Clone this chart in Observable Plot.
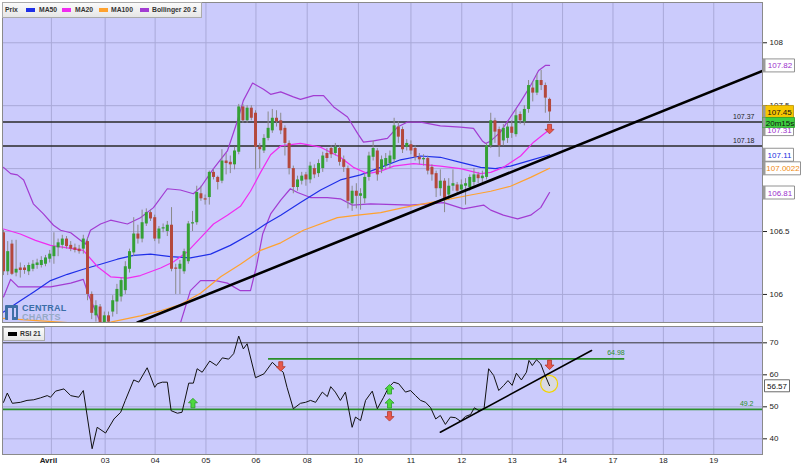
<!DOCTYPE html>
<html><head><meta charset="utf-8">
<script src="https://cdn.jsdelivr.net/npm/d3@7"></script>
<script src="https://cdn.jsdelivr.net/npm/@observablehq/plot@0.6"></script>
<style>
body{margin:0;background:#fff;font-family:"Liberation Sans",Arial,sans-serif;}
#wrap{position:relative;width:806px;height:469px;overflow:hidden;background:#fff;}
#main,#rsi{position:absolute;left:0;}
#main{top:0;} #rsi{top:324px;}
.leg{position:absolute;background:linear-gradient(#fbfbfb,#e6e6e6);border:1px solid #aaa;box-sizing:border-box;}
.leg span{position:absolute;top:0;line-height:14px;font-size:6.8px;font-weight:bold;color:#333;white-space:nowrap;}
.leg i{position:absolute;top:5px;width:9px;height:4px;}
#logo{position:absolute;left:5px;top:303px;}
</style></head><body>
<div id="wrap">
  <div id="main"></div>
  <div id="rsi"></div>
  <div class="leg" style="left:2px;top:2px;width:200px;height:16px;">
    <span style="left:2px">Prix</span>
    <i style="left:23px;background:#1f2fe8"></i><span style="left:36px">MA50</span>
    <i style="left:59px;background:#f02cf0"></i><span style="left:72px">MA20</span>
    <i style="left:96px;background:#ffa22e"></i><span style="left:108px">MA100</span>
    <i style="left:137px;background:#a23cd2"></i><span style="left:149px">Bollinger 20 2</span>
  </div>
  <div class="leg" style="left:3px;top:327px;width:42px;height:14px;">
    <i style="left:4px;top:4px;background:#000"></i><span style="left:16px;line-height:12px">RSI 21</span>
  </div>
  <div id="logo">
    <div style="position:absolute;left:0;top:2px;width:13px;height:15px;background:#3f6fa6;border-radius:1px"></div>
    <div style="position:absolute;left:3px;top:5px;width:4px;height:12px;background:#cbcbfc"></div>
    <div style="position:absolute;left:9px;top:5px;width:2px;height:9px;background:#cbcbfc"></div>
    <div style="position:absolute;left:17px;top:0;font:bold 9px 'Liberation Sans',Arial;color:#3c6ea8;letter-spacing:0.2px">CENTRAL</div>
    <div style="position:absolute;left:17px;top:9px;font:bold 9px 'Liberation Sans',Arial;color:#95a9c6;letter-spacing:0.2px">CHARTS</div>
  </div>
</div>
<script>
// ---------- DATA ----------
const dayTicks = [11.4, 24.2, 36.1, 48.2, 60.1, 72.3, 84.5, 97.0, 109.1, 121.1, 133.1, 145.1, 157.1, 169.1];
const dayLabels = ["Avril","03","04","05","06","08","10","11","12","13","14","17","18","19"];

const cOpen = [106.49,106.18,106.40,106.17,106.21,106.21,106.18,106.20,106.23,106.23,106.24,106.28,106.30,106.37,106.39,106.44,106.39,106.37,106.36,106.36,
106.42,106.00,105.83,105.90,105.77,105.83,105.86,105.94,105.98,106.03,106.20,106.33,106.48,106.44,106.56,106.65,106.61,106.44,106.52,106.50,
106.55,106.21,106.20,106.18,106.26,106.56,106.57,106.80,106.76,106.77,106.97,106.93,106.90,107.06,107.05,107.03,107.13,107.49,107.38,107.48,
107.44,107.17,107.14,107.24,107.30,107.40,107.38,107.32,107.20,107.00,106.85,106.90,106.95,106.91,107.00,106.96,107.00,107.12,107.16,107.12,
107.16,107.07,107.00,106.72,106.82,106.78,106.76,106.93,107.09,107.14,106.99,107.02,107.04,107.07,107.33,107.31,107.17,107.19,107.16,107.09,
107.07,107.08,107.01,106.96,106.84,106.90,106.79,106.86,106.87,106.83,106.86,106.85,106.89,106.95,106.92,106.93,107.18,107.38,107.31,107.22,
107.24,107.33,107.27,107.43,107.37,107.47,107.64,107.60,107.70,107.66,107.55];
const cHigh = [106.51,106.42,106.43,106.43,106.25,106.23,106.25,106.27,106.28,106.30,106.31,106.35,106.49,106.44,106.47,106.46,106.42,106.40,106.39,106.47,
106.45,106.02,105.95,105.92,105.86,105.86,105.99,106.08,106.13,106.26,106.36,106.61,106.55,106.67,106.68,106.67,106.63,106.54,106.56,106.58,
106.69,106.24,106.27,106.36,106.58,106.66,106.86,106.86,106.79,106.98,106.99,106.94,107.15,107.12,107.10,107.17,107.51,107.51,107.50,107.50,
107.46,107.20,107.27,107.45,107.47,107.46,107.44,107.34,107.22,107.02,106.94,106.97,106.97,107.05,107.03,107.07,107.13,107.16,107.18,107.20,
107.18,107.10,107.02,106.86,106.88,106.84,106.96,107.13,107.22,107.16,107.10,107.12,107.14,107.40,107.37,107.33,107.23,107.22,107.18,107.12,
107.11,107.10,107.03,106.98,106.99,106.92,106.92,106.99,106.89,106.91,106.92,106.95,107.00,106.97,106.98,107.20,107.44,107.40,107.33,107.35,
107.36,107.38,107.47,107.45,107.50,107.70,107.69,107.75,107.78,107.68,107.56];
const cLow = [106.15,106.15,106.15,106.14,106.13,106.16,106.15,106.18,106.20,106.21,106.22,106.25,106.24,106.30,106.36,106.36,106.34,106.33,106.32,106.32,
105.95,105.80,105.78,105.72,105.73,105.74,105.82,105.84,105.94,106.00,106.17,106.30,106.40,106.41,106.54,106.58,106.42,106.40,106.49,106.46,
106.18,106.00,106.00,106.16,106.24,106.50,106.55,106.74,106.71,106.71,106.91,106.83,106.88,106.95,106.96,106.99,107.11,107.36,107.36,107.38,
106.99,107.00,107.12,107.22,107.28,107.33,107.27,107.10,106.95,106.80,106.82,106.87,106.86,106.88,106.92,106.93,106.97,107.05,107.08,107.10,
107.02,106.97,106.68,106.66,106.68,106.67,106.72,106.90,107.06,106.90,106.96,106.99,107.00,107.05,107.20,107.12,107.14,107.11,107.06,107.03,
107.02,106.95,106.90,106.77,106.78,106.65,106.75,106.82,106.79,106.80,106.71,106.82,106.86,106.88,106.89,106.91,107.16,107.20,107.09,107.18,
107.20,107.24,107.25,107.35,107.34,107.44,107.53,107.58,107.62,107.44,107.37];
const cClose = [106.18,106.34,106.16,106.20,106.19,106.19,106.23,106.24,106.25,106.27,106.29,106.32,106.38,106.41,106.44,106.38,106.36,106.35,106.34,106.44,
106.00,105.85,105.91,105.76,105.83,105.78,105.95,106.04,106.11,106.22,106.34,106.48,106.44,106.57,106.65,106.60,106.44,106.52,106.53,106.55,
106.20,106.20,106.24,106.34,106.56,106.57,106.81,106.76,106.75,106.97,106.93,106.89,107.06,107.04,107.03,107.14,107.49,107.38,107.48,107.40,
107.17,107.15,107.24,107.32,107.40,107.37,107.30,107.20,107.00,106.85,106.91,106.94,106.91,107.02,106.95,107.04,107.10,107.08,107.11,107.17,
107.05,107.01,106.74,106.82,106.78,106.80,106.93,107.10,107.16,106.95,107.07,107.08,107.10,107.34,107.25,107.15,107.20,107.14,107.09,107.07,
107.08,106.98,106.95,106.84,106.90,106.76,106.86,106.88,106.82,106.87,106.88,106.93,106.95,106.92,106.94,107.18,107.38,107.29,107.18,107.32,
107.33,107.28,107.42,107.38,107.47,107.66,107.60,107.70,107.66,107.56,107.45];

// moving averages / bands: [candle index, value]
const ma20 = [[0,106.52],[4,106.48],[7.6,106.43],[11.2,106.39],[15.2,106.37],[19,106.35],[22.4,106.22],[25.5,106.14],[29.5,106.13],[32.6,106.15],
[37.4,106.21],[40.5,106.26],[43.8,106.34],[46.9,106.45],[50,106.56],[53.3,106.63],[56.4,106.70],[58.8,106.82],[61.2,106.97],[63.6,107.11],
[66,107.18],[70.7,107.20],[75.5,107.17],[80.2,107.09],[83.3,107.01],[86.7,106.96],[89.8,106.98],[92.9,107.02],[97.6,107.04],[104,107.02],
[108.8,107.00],[113.6,106.96],[116,106.97],[119,107.01],[123.1,107.10],[126.2,107.21],[130,107.31]];
const ma50 = [[0,105.86],[4,105.95],[7.2,106.02],[11.2,106.11],[15.2,106.16],[19,106.20],[23.1,106.24],[27.1,106.28],[31,106.31],[35,106.32],
[39.8,106.30],[44.5,106.29],[49.3,106.32],[54,106.39],[58.8,106.48],[62.4,106.56],[66,106.63],[70.7,106.73],[75.5,106.83],[80.2,106.91],
[85,106.95],[89.8,107.01],[94.5,107.07],[99.3,107.10],[104,107.09],[108.8,107.05],[113.6,107.01],[117.1,107.00],[120.7,107.02],[124.8,107.06],[130,107.11]];
const ma100 = [[0,105.81],[8.8,105.79],[18.3,105.77],[25.5,105.78],[32.6,105.83],[37.4,105.87],[42.1,105.92],[46.9,106.01],[51.7,106.14],[56.4,106.24],
[61.2,106.35],[66,106.41],[71.4,106.51],[79.5,106.61],[84.3,106.63],[89.8,106.65],[95.2,106.69],[100,106.72],[106.4,106.76],[111.2,106.79],
[116,106.82],[120.7,106.86],[125.5,106.93],[130,107.0022]];
const bbUpper = [[0,107.01],[1.7,106.96],[3.3,106.95],[4.8,106.91],[7.1,106.72],[9.5,106.64],[11.9,106.55],[13.6,106.51],[16,106.49],[18.3,106.43],
[19.5,106.40],[20.7,106.51],[23.1,106.56],[25.5,106.59],[29.5,106.56],[32.6,106.61],[35.7,106.69],[39,106.84],[42.1,106.83],[45.2,106.80],
[46.9,106.85],[50,107.00],[53.3,107.14],[55.7,107.38],[57.1,107.54],[59.3,107.68],[61.9,107.63],[63.6,107.59],[66,107.61],[69,107.57],
[70.7,107.55],[73.8,107.58],[76.2,107.58],[78.6,107.49],[81.9,107.41],[84.3,107.28],[85.7,107.21],[88.1,107.22],[91.4,107.24],[93.8,107.33],
[96.2,107.37],[99.3,107.37],[104,107.34],[108.8,107.33],[111.9,107.32],[114,107.22],[114.8,107.20],[116,107.22],[118.3,107.29],[120.7,107.41],
[123.1,107.53],[125.5,107.66],[127.4,107.78],[129,107.82],[130,107.82]];
const bbLower = [[0,105.98],[1.7,106.12],[3.5,106.06],[11.2,106.06],[16,106.09],[19,106.12],[20.2,106.00],[22.4,105.83],[23.8,105.72],[26.7,105.55],
[30.2,105.45],[35,105.50],[39.8,105.62],[42.1,105.77],[44.5,106.03],[46.9,106.11],[50.5,106.11],[53.3,106.09],[56.4,106.03],[58.8,106.03],
[60.2,106.22],[61.7,106.48],[63.6,106.64],[66,106.75],[68.3,106.84],[70,106.81],[73.1,106.77],[77.1,106.77],[80.2,106.76],[83.1,106.71],
[87.4,106.72],[96.9,106.71],[104.8,106.73],[109.5,106.68],[114.3,106.71],[116,106.67],[119,106.63],[122.4,106.60],[125.5,106.63],[127.9,106.69],[130,106.81]];

const rsi = [[0,51.4],[0.9,54.3],[2.1,51.1],[4,51.4],[5.6,52.0],[7.2,52.2],[8.8,52.8],[10.4,53.5],[11.2,53.0],[12.4,54.9],[14.4,55.6],[16,53.5],
[17.9,53.0],[19,55.1],[21.1,36.9],[22.3,43.6],[24.3,41.8],[26.3,46.2],[27.9,48.3],[29,52.0],[31,58.4],[32.2,57.7],[34.2,62.2],[36,56.1],
[36.6,57.2],[37.8,57.7],[39,57.7],[39.9,48.8],[41.4,48.0],[42.5,48.3],[44.1,57.4],[45.2,57.4],[46.1,61.9],[47.3,60.8],[49.1,64.3],[50.7,62.9],
[52.1,65.3],[53.6,64.9],[54.8,66.6],[56,72.1],[57.1,68.1],[58,69.7],[60,59.1],[62,60.3],[64,63.9],[65.2,62.4],[66.6,60.8],[67.5,56.1],
[69,49.4],[70.7,51.1],[71.9,51.4],[73.1,52.0],[74.3,51.4],[75.9,54.6],[77.1,53.2],[77.9,56.3],[79,54.6],[80.2,52.0],[81.4,54.6],[83,43.6],
[83.8,46.8],[85,45.7],[86.2,52.0],[87.8,54.9],[89,49.4],[90.5,53.0],[91.7,56.1],[92.9,57.7],[94.1,57.2],[95.7,54.6],[96.9,55.1],[98.1,53.5],
[99.3,52.0],[100.5,51.4],[101.7,49.7],[102.9,46.2],[104,47.3],[105.2,44.5],[106.4,46.8],[107.6,46.6],[108.8,45.5],[110,47.0],[111.2,47.6],
[112.1,49.7],[113.2,48.8],[114.4,49.4],[115.5,61.9],[116.7,59.8],[117.9,55.1],[119.1,56.7],[120.1,58.2],[121.1,56.7],[122.1,60.5],[123.3,58.4],
[124.5,60.8],[125.1,64.5],[125.9,62.9],[126.9,64.7],[127.9,63.4],[128.8,60.3],[130,56.6]];

const priceTicks = [106, 106.5, 107, 107.5, 108];
const priceLevels = [107.37, 107.18];
const trendMain = [[31.9, 105.777], [180.7, 107.777]];
const rsiTicks = [40, 50, 60, 70];
const rsiLevels = [64.98, 49.2];
const rsiLevelSpan = [63.1, 147.9];
const trendRsi = [[104, 42.06], [140, 67.6]];
const arrowsRsiUp = [[45.1, 51.1], [91.9, 55.4], [91.9, 51.0]];
const arrowsRsiDown = [[66, 62.7], [91.9, 47.1], [130, 63.2]];
const arrowsMainDown = [[130, 107.316]];
const rsiCircle = [[129.9, 57.2]];
const lastBbUpper = 107.82, lastMa20 = 107.31, lastMa50 = 107.11, lastMa100 = 107.0022, lastBbLower = 106.81, lastClose = 107.45;
const timerLabel = "20m15s";
const lastRsi = 56.57;

// ---------- STYLE ----------
const BG = "#cbcbfc", GRID = "#a9a9d8";
const GREEN = "#35a035", RED = "#b4483c", WICK = "#8a8a8a";
const C_MA20 = "#f02cf0", C_MA50 = "#1f2fe8", C_MA100 = "#ffa22e", C_BB = "#a23cd2";
const FONT = "'Liberation Sans', Arial, sans-serif";
const xDomain = [-0.24, 180.7];

const candles = cOpen.map((o, i) => ({i, o, h: cHigh[i], l: cLow[i], c: cClose[i]}));
const ups = candles.filter(d => d.c >= d.o), downs = candles.filter(d => d.c < d.o);

const rectSym = (x0, w, h) => ({draw(ctx) { ctx.moveTo(x0, -h/2); ctx.lineTo(x0 + w, -h/2); ctx.lineTo(x0 + w, h/2); ctx.lineTo(x0, h/2); ctx.closePath(); }});
const arrowUp = {draw(ctx) { ctx.moveTo(0,-5); ctx.lineTo(4.5,-0.5); ctx.lineTo(2,-0.5); ctx.lineTo(2,4.5); ctx.lineTo(-2,4.5); ctx.lineTo(-2,-0.5); ctx.lineTo(-4.5,-0.5); ctx.closePath(); }};
const arrowDown = {draw(ctx) { ctx.moveTo(0,5); ctx.lineTo(4.5,0.5); ctx.lineTo(2,0.5); ctx.lineTo(2,-4.5); ctx.lineTo(-2,-4.5); ctx.lineTo(-2,0.5); ctx.lineTo(-4.5,0.5); ctx.closePath(); }};

const P = {x: d => d[0], y: d => d[1]};

function valueBox(v, label, w, h, fill, stroke, color, dy = 0) {
  return [
    Plot.dot([v], {y: d => d, frameAnchor: "right", symbol: rectSym(0, w, h), fill, stroke, strokeWidth: 0.8, dy}),
    Plot.dot([v], {y: d => d, frameAnchor: "right", symbol: rectSym(0, 3, h), fill: "#9a9a9a", dy}),
    Plot.text([v], {y: d => d, frameAnchor: "right", dx: w/2 + 1.5, dy: dy + 0.5, text: () => label, fill: color, textAnchor: "middle", fontSize: 8})
  ];
}

const mainPlot = Plot.plot({
  width: 806, height: 324,
  marginLeft: 2, marginRight: 44, marginTop: 2, marginBottom: 2,
  x: {domain: xDomain, axis: null},
  y: {domain: [105.777, 108.32], axis: "right", ticks: priceTicks, tickFormat: d => String(d), tickSize: 4, tickPadding: 3, label: null},
  style: {fontFamily: FONT, fontSize: "8px", color: "#222", background: "transparent", overflow: "visible"},
  marks: [
    Plot.frame({fill: BG}),
    Plot.ruleY(priceTicks, {stroke: GRID, strokeWidth: 1}),
    Plot.ruleX(dayTicks, {stroke: GRID, strokeWidth: 1}),
    Plot.ruleY(priceLevels, {stroke: "#2a2a2a", strokeWidth: 1.6}),
    Plot.text(priceLevels, {y: d => d, frameAnchor: "right", dx: -8, dy: -5.5, textAnchor: "end", text: d => d.toFixed(2), fill: "#222", fontSize: 7}),
    Plot.line(bbUpper, {...P, stroke: C_BB, strokeWidth: 1.2, clip: true}),
    Plot.line(bbLower, {...P, stroke: C_BB, strokeWidth: 1.2, clip: true}),
    Plot.line(ma100, {...P, stroke: C_MA100, strokeWidth: 1.2, clip: true}),
    Plot.line(ma50, {...P, stroke: C_MA50, strokeWidth: 1.2, clip: true}),
    Plot.line(ma20, {...P, stroke: C_MA20, strokeWidth: 1.2, clip: true}),
    Plot.ruleX(candles, {x: "i", y1: "l", y2: "h", stroke: WICK, strokeWidth: 1, clip: true}),
    Plot.ruleX(ups, {x: "i", y1: "o", y2: "c", stroke: GREEN, strokeWidth: 3, clip: true}),
    Plot.ruleX(downs, {x: "i", y1: "o", y2: "c", stroke: RED, strokeWidth: 3, clip: true}),
    Plot.line(trendMain, {...P, stroke: "#000", strokeWidth: 2.6, clip: true}),
    Plot.dot(arrowsMainDown, {...P, symbol: arrowDown, fill: "#e8574c", stroke: "#b03a30", strokeWidth: 0.8}),
    Plot.frame({stroke: "#8a8a8a"}),
    ...valueBox(lastBbUpper, String(lastBbUpper), 32, 13, "#fff", "#777", "#9b30cc"),
    ...valueBox(lastBbLower, String(lastBbLower), 32, 13, "#fff", "#777", "#9b30cc"),
    ...valueBox(lastMa50, String(lastMa50), 31, 13, "#fff", "#777", "#2030e0"),
    ...valueBox(lastMa100, String(lastMa100), 38, 13, "#fff", "#777", "#f08a10"),
    ...valueBox(lastMa20, String(lastMa20), 31, 12, "#fff", "#777", "#9b30cc"),
    ...valueBox(lastClose, String(lastClose), 31, 13, "#f7c600", "#b89000", "#111"),
    ...valueBox(lastClose, timerLabel, 32, 10, "#3fcf3f", "#2a9a2a", "#111", 10.5)
  ]
});
document.getElementById("main").appendChild(mainPlot);

const rsiPlot = Plot.plot({
  width: 806, height: 145,
  marginLeft: 2, marginRight: 44, marginTop: 2, marginBottom: 15,
  x: {domain: xDomain, axis: null},
  y: {domain: [35.1, 75.1], axis: "right", ticks: rsiTicks, tickSize: 4, tickPadding: 3, label: null},
  style: {fontFamily: FONT, fontSize: "8px", color: "#222", background: "transparent", overflow: "visible"},
  marks: [
    Plot.frame({fill: BG}),
    Plot.ruleY(rsiTicks.slice(0, 3), {stroke: GRID}),
    Plot.ruleX(dayTicks, {stroke: GRID}),
    Plot.ruleY([rsiTicks[3]], {stroke: "#333", strokeWidth: 1}),
    Plot.ruleY([rsiLevels[1]], {stroke: "#2a8f2a", strokeWidth: 1.6}),
    Plot.ruleY([{y: rsiLevels[0], x1: rsiLevelSpan[0], x2: rsiLevelSpan[1]}], {y: "y", x1: "x1", x2: "x2", stroke: "#2a8f2a", strokeWidth: 1.6}),
    Plot.text([rsiLevels[0]], {x: rsiLevelSpan[1], y: d => d, dy: -6, textAnchor: "end", text: d => String(d), fill: "#2a8f2a", fontSize: 7}),
    Plot.text([rsiLevels[1]], {y: d => d, frameAnchor: "right", dx: -9, dy: -5.5, textAnchor: "end", text: d => String(d), fill: "#2a8f2a", fontSize: 7}),
    Plot.dot(rsiCircle, {...P, r: 8.5, fill: "#d9d9e2", fillOpacity: 1, stroke: "#f2d400", strokeWidth: 1.2}),
    Plot.line(rsi, {...P, stroke: "#111", strokeWidth: 1}),
    Plot.line(trendRsi, {...P, stroke: "#000", strokeWidth: 1.6}),
    Plot.dot(arrowsRsiUp, {...P, symbol: arrowUp, fill: "#4fd83f", stroke: "#2a9a2a", strokeWidth: 0.8}),
    Plot.dot(arrowsRsiDown, {...P, symbol: arrowDown, fill: "#e8574c", stroke: "#b03a30", strokeWidth: 0.8}),
    Plot.frame({stroke: "#8a8a8a"}),
    Plot.dot([lastRsi], {y: d => d, frameAnchor: "right", symbol: rectSym(2, 25, 12), fill: "#fff", stroke: "#444", strokeWidth: 0.8}),
    Plot.text([lastRsi], {y: d => d, frameAnchor: "right", dx: 14.5, dy: 0.5, text: d => String(d), fill: "#111", textAnchor: "middle", fontSize: 8}),
    Plot.text([dayTicks[0]], {x: d => d, frameAnchor: "bottom", dy: 8, dx: -3, text: () => dayLabels[0], fontWeight: "bold", fill: "#222", fontSize: 8}),
    Plot.text(dayTicks.slice(1), {x: d => d, frameAnchor: "bottom", dy: 8, text: (d, i) => dayLabels[i + 1], fill: "#222", fontSize: 8})
  ]
});
document.getElementById("rsi").appendChild(rsiPlot);
</script>
</body></html>
